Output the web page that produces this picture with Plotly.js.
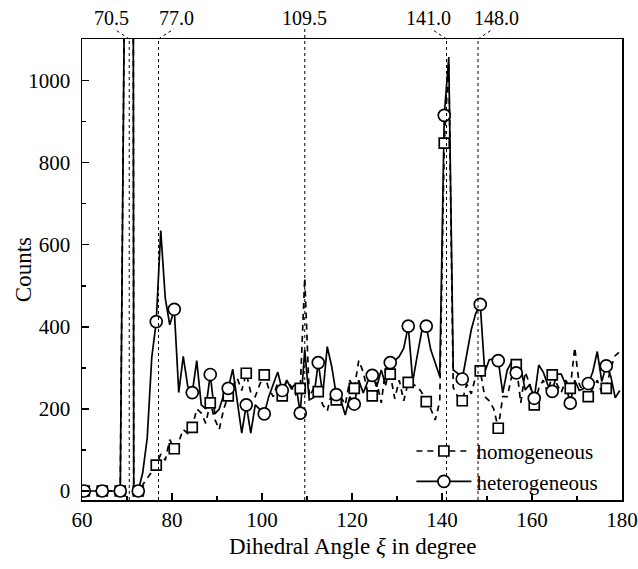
<!DOCTYPE html>
<html><head><meta charset="utf-8">
<script src="https://cdn.plot.ly/plotly-3.0.1.min.js"></script>
<style>html,body{margin:0;padding:0;background:#fff}#chart{width:638px;height:569px}</style>
</head><body><div id="chart"></div>
<script>
const angles = [60.5,61.5,62.5,63.5,64.5,65.5,66.5,67.5,68.5,69.5,
  70.5,71.5,72.5,73.5,74.5,75.5,76.5,77.5,78.5,79.5,
  80.5,81.5,82.5,83.5,84.5,85.5,86.5,87.5,88.5,89.5,
  90.5,91.5,92.5,93.5,94.5,95.5,96.5,97.5,98.5,99.5,
  100.5,101.5,102.5,103.5,104.5,105.5,106.5,107.5,108.5,109.5,
  110.5,111.5,112.5,113.5,114.5,115.5,116.5,117.5,118.5,119.5,
  120.5,121.5,122.5,123.5,124.5,125.5,126.5,127.5,128.5,129.5,
  130.5,131.5,132.5,133.5,134.5,135.5,136.5,137.5,138.5,139.5,
  140.5,141.5,142.5,143.5,144.5,145.5,146.5,147.5,148.5,149.5,
  150.5,151.5,152.5,153.5,154.5,155.5,156.5,157.5,158.5,159.5,
  160.5,161.5,162.5,163.5,164.5,165.5,166.5,167.5,168.5,169.5,
  170.5,171.5,172.5,173.5,174.5,175.5,176.5,177.5,178.5,179.5];

const homogeneous = [0,0,0,0,0,0,0,0,0,1300,
  12000,0,0,15,30,45,63,90,75,125,
  103,120,150,140,155,200,190,165,215,175,
  150,200,232,255,275,245,287,240,230,260,
  283,250,230,265,232,270,255,235,250,520,
  230,250,242,210,195,240,222,230,210,270,
  250,318,290,240,232,265,215,300,285,225,
  270,220,265,260,255,240,218,200,173,218,
  848,1045,252,230,220,260,237,280,293,230,
  220,200,153,230,230,280,308,215,290,260,
  210,250,270,240,283,260,240,270,250,350,
  260,240,230,250,270,240,250,300,330,340];

const heterogeneous = [0,0,0,0,0,0,0,0,0,1300,
  12000,0,0,45,130,325,413,635,470,405,
  443,240,328,255,240,318,210,200,284,188,
  200,235,250,297,215,141,210,141,210,200,
  188,230,260,290,245,270,250,262,190,344,
  222,228,313,235,352,303,235,222,185,230,
  212,270,239,267,282,254,295,258,313,318,
  328,348,402,267,330,390,402,344,312,279,
  916,1058,295,287,273,336,393,433,455,290,
  320,322,318,239,295,315,288,300,246,260,
  226,307,290,259,243,285,285,259,214,270,
  245,250,262,290,340,267,305,280,227,245];

const seriesNames = ['homogeneous', 'heterogeneous'];
const refAngles = [70.5, 77.0, 109.5, 141.0, 148.0];
const refLabels = ['70.5', '77.0', '109.5', '141.0', '148.0'];
const labelShift = [-4, 4, 0, -4, 4];   // label offset (degrees) for the callouts

const xTicks = [60, 80, 100, 120, 140, 160, 180];
const yTicks = [0, 200, 400, 600, 800, 1000];
const xTitle = 'Dihedral Angle <i>ξ</i> in degree';
const yTitle = 'Counts';

const FONT = '"Liberation Serif", "Times New Roman", Times, serif';
const every = (arr) => arr.filter((_, i) => i % 4 === 0);

const styles = [
  {dash: '6px,5px', symbol: 'square', size: 10},
  {dash: 'solid', symbol: 'circle', size: 12}
];
const ys = [homogeneous, heterogeneous];
const LW = 1.7;

const traces = [];
ys.forEach((y, k) => {
  traces.push({x: angles, y: y, type: 'scatter', mode: 'lines', showlegend: false,
    line: {color: '#000', width: LW, dash: styles[k].dash}, hoverinfo: 'skip'});
});
ys.forEach((y, k) => {
  traces.push({x: every(angles), y: every(y), type: 'scatter', mode: 'markers', showlegend: false,
    marker: {symbol: styles[k].symbol, size: styles[k].size, color: '#fff',
      line: {color: '#000', width: LW}}});
});
ys.forEach((y, k) => {
  traces.push({x: [null], y: [null], type: 'scatter', mode: 'lines+markers', name: seriesNames[k],
    line: {color: '#000', width: LW, dash: styles[k].dash},
    marker: {symbol: styles[k].symbol, size: styles[k].size, color: '#fff',
      line: {color: '#000', width: LW}}});
});

const shapes = [];
const annotations = [];
const yLab = 1.022;
refAngles.forEach((a, i) => {
  shapes.push({type: 'line', xref: 'x', yref: 'paper', x0: a, x1: a, y0: 0,
    y1: labelShift[i] === 0 ? yLab : 1, line: {color: '#000', width: 1, dash: 'dot'}});
  if (labelShift[i] !== 0) {
    shapes.push({type: 'line', xref: 'x', yref: 'paper', x0: a, x1: a + labelShift[i] * 0.85,
      y0: 1, y1: yLab, line: {color: '#000', width: 1, dash: 'dot'}});
  }
  annotations.push({xref: 'x', yref: 'paper', x: a + labelShift[i], y: 1.046,
    text: refLabels[i], showarrow: false, xanchor: 'center', yanchor: 'middle',
    font: {family: FONT, size: 20, color: '#000'}});
});
annotations.push({xref: 'paper', yref: 'paper', x: 0.5, y: -0.101, text: xTitle,
  showarrow: false, xanchor: 'center', yanchor: 'middle', font: {family: FONT, size: 23, color: '#000'}});
annotations.push({xref: 'paper', yref: 'paper', x: -0.108, y: 0.5, text: yTitle, textangle: -90,
  showarrow: false, xanchor: 'center', yanchor: 'middle', font: {family: FONT, size: 23, color: '#000'}});

const layout = {
  width: 638, height: 569,
  margin: {l: 82, r: 16, t: 39, b: 69},
  paper_bgcolor: '#fff', plot_bgcolor: '#fff',
  font: {family: FONT, color: '#000', size: 21},
  showlegend: true,
  legend: {x: 0.61, y: 0.15, xanchor: 'left', yanchor: 'top', bgcolor: 'rgba(0,0,0,0)',
    font: {family: FONT, size: 21, color: '#000'}, itemwidth: 55, tracegroupgap: 0},
  xaxis: {range: [60, 180], tickvals: xTicks, ticktext: xTicks.map(String),
    ticks: 'inside', ticklen: 7, tickwidth: 1.2, tickcolor: '#000',
    minor: {dtick: 10, ticks: 'inside', ticklen: 4, tickwidth: 1.2, tickcolor: '#000'},
    showline: true, linecolor: '#000', linewidth: 1.5, mirror: true,
    showgrid: false, zeroline: false, ticklabelstandoff: 0, ticklabeloverflow: 'allow',
    tickfont: {family: FONT, size: 21}},
  yaxis: {range: [-22, 1102], tickvals: yTicks, ticktext: yTicks.map(String),
    ticks: 'inside', ticklen: 7, tickwidth: 1.2, tickcolor: '#000',
    minor: {dtick: 100, ticks: 'inside', ticklen: 4, tickwidth: 1.2, tickcolor: '#000'},
    showline: true, linecolor: '#000', linewidth: 1.5, mirror: true,
    showgrid: false, zeroline: false, ticklabelstandoff: 6, ticklabeloverflow: 'allow',
    tickfont: {family: FONT, size: 21}},
  shapes: shapes,
  annotations: annotations
};

Plotly.newPlot('chart', traces, layout, {displayModeBar: false, staticPlot: true});
</script></body></html>
